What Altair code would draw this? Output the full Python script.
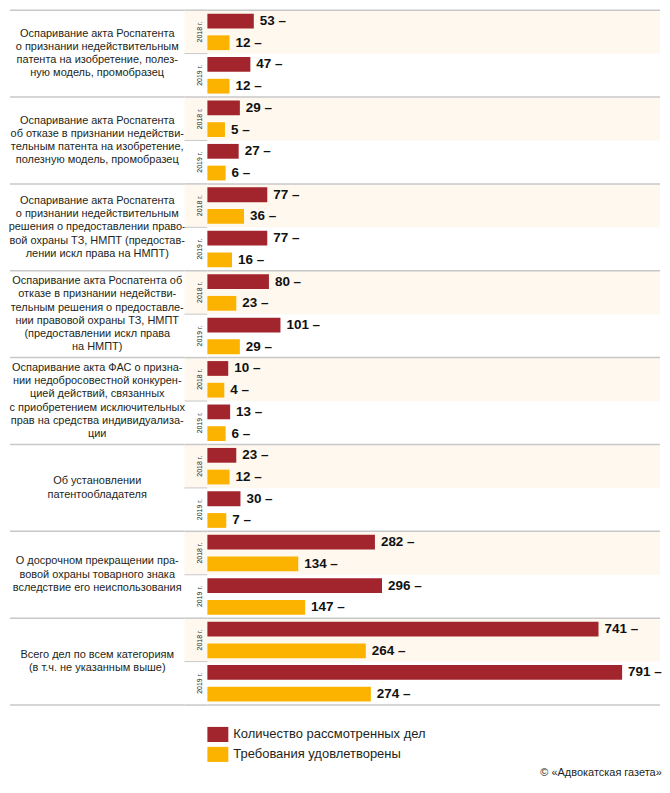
import altair as alt
import pandas as pd

FONT = "Liberation Sans"
RED = "#a2242c"
YELLOW = "#fcb300"
CREAM = "#fef8ef"
GRID = "#c8c8c8"

categories = [
    ["Оспаривание акта Роспатента", "о признании недействительным",
     "патента на изобретение, полез-", "ную модель, промобразец"],
    ["Оспаривание акта Роспатента", "об отказе в признании недействи-",
     "тельным патента на изобретение,", "полезную модель, промобразец"],
    ["Оспаривание акта Роспатента", "о признании недействительным",
     "решения о предоставлении право-", "вой охраны ТЗ, НМПТ (предостав-",
     "лении искл права на НМПТ)"],
    ["Оспаривание акта Роспатента об", "отказе в признании недействи-",
     "тельным решения о предоставле-", "нии правовой охраны ТЗ, НМПТ",
     "(предоставлении искл права", "на НМПТ)"],
    ["Оспаривание акта ФАС о призна-", "нии недобросовестной конкурен-",
     "цией действий, связанных", "с приобретением исключительных",
     "прав на средства индивидуализа-", "ции"],
    ["Об установлении", "патентообладателя"],
    ["О досрочном прекращении пра-", "вовой охраны товарного знака",
     "вследствие его неиспользования"],
    ["Всего дел по всем категориям", "(в т.ч. не указанным выше)"],
]
years = ["2018 г.", "2019 г."]
series = ["Количество рассмотренных дел", "Требования удовлетворены"]
considered_2018 = [53, 29, 77, 80, 10, 23, 282, 741]
satisfied_2018 = [12, 5, 36, 23, 4, 12, 134, 264]
considered_2019 = [47, 27, 77, 101, 13, 30, 296, 791]
satisfied_2019 = [12, 6, 16, 29, 6, 7, 147, 274]
copyright = "© «Адвокатская газета»"

n = len(categories)
rows = []
grps = []
for i in range(n):
    pairs = [(considered_2018[i], satisfied_2018[i]), (considered_2019[i], satisfied_2019[i])]
    for yr, (c, s) in zip(years, pairs):
        grps.append(dict(sec=str(i), year=yr, grp=f"{i}|{yr}"))
        for ser, v in zip(series, (c, s)):
            rows.append(dict(row=f"{i}|{yr}|{ser}", series=ser, value=v, label=f"{v} –"))
bars_df = pd.DataFrame(rows)
grp_df = pd.DataFrame(grps)
lines_df = pd.DataFrame([dict(sec=i, j=j, k=len(cat), line=line)
                         for i, cat in enumerate(categories)
                         for j, line in enumerate(cat)])
bound_df = pd.DataFrame(dict(b=list(range(n + 1))))

H = 697
LH = 13.3
lh_units = LH / (H / n)

row_scale = alt.Scale(domain=list(bars_df["row"]), paddingInner=0.32, paddingOuter=0.16)
grp_scale = alt.Scale(domain=list(grp_df["grp"]), paddingInner=0, paddingOuter=0)
bound_scale = alt.Scale(domain=[0, n], reverse=True, nice=False, zero=False)
vmax = int(bars_df["value"].max())
x_scale = alt.Scale(type="pow", exponent=0.93, domain=[0, vmax], range=[14, 416], nice=False)


def rules():
    return alt.Chart(bound_df).mark_rule(color=GRID, strokeWidth=1.5).encode(
        y=alt.Y("b:Q", scale=bound_scale, axis=None))


def cream():
    return alt.Chart(grp_df).transform_filter(alt.datum.year == years[0]).mark_rect(
        color=CREAM).encode(y=alt.Y("grp:N", scale=grp_scale, axis=None))


cat_text = alt.Chart(lines_df).transform_calculate(
    pos=f"datum.sec + 0.5 + (datum.j - (datum.k - 1) / 2) * {lh_units}"
).mark_text(
    font=FONT, fontSize=11, align="center", baseline="middle", color="#231f20").encode(
    y=alt.Y("pos:Q", scale=bound_scale, axis=None), text="line:N")

year_sep = alt.Chart(grp_df).transform_filter(alt.datum.year == years[1]).mark_rule(
    color=GRID, strokeWidth=1).encode(
    y=alt.Y("grp:N", scale=grp_scale, axis=None, bandPosition=0))

year_text = alt.Chart(grp_df).mark_text(
    font=FONT, fontSize=7, angle=270, dy=4, align="center", baseline="middle",
    color="#231f20").encode(
    y=alt.Y("grp:N", scale=grp_scale, axis=None), text="year:N")

bars = alt.Chart(bars_df).mark_bar().encode(
    y=alt.Y("row:N", scale=row_scale, axis=None),
    x=alt.X("value:Q", scale=x_scale, axis=None, stack=False),
    x2=alt.value(0),
    color=alt.Color("series:N", scale=alt.Scale(domain=series, range=[RED, YELLOW]),
                    legend=alt.Legend(orient="none", legendX=198, legendY=716, title=None,
                                      symbolType="M-1,-0.72L1,-0.72L1,0.72L-1,0.72Z",
                                      symbolSize=441, symbolStrokeWidth=0,
                                      labelFont=FONT, labelFontSize=13, labelColor="#231f20",
                                      labelOffset=5, labelLimit=400, rowPadding=1)),
)

labels = alt.Chart(bars_df).mark_text(
    font=FONT, fontSize=13.5, fontWeight="bold", align="left", baseline="middle",
    dx=6, color="#111111").encode(
    y=alt.Y("row:N", scale=row_scale, axis=None),
    x=alt.X("value:Q", scale=x_scale, axis=None),
    text="label:N")

left = alt.layer(rules(), cat_text).resolve_scale(y="independent").properties(width=175, height=H)
mid = alt.layer(cream(), rules(), year_sep, year_text).resolve_scale(y="independent").properties(width=23, height=H)
right = alt.layer(cream(), rules(), bars, labels).resolve_scale(y="independent").properties(width=454, height=H)

chart = alt.hconcat(left, mid, right, spacing=0, bounds="flush").properties(
    padding=0,
    title=alt.TitleParams(text=copyright, orient="bottom", anchor="end", font=FONT,
                          fontSize=11, fontWeight="normal", color="#231f20", offset=4),
).configure_view(strokeWidth=0)

chart.save("out.html", embed_options={"renderer": "svg", "actions": False})
